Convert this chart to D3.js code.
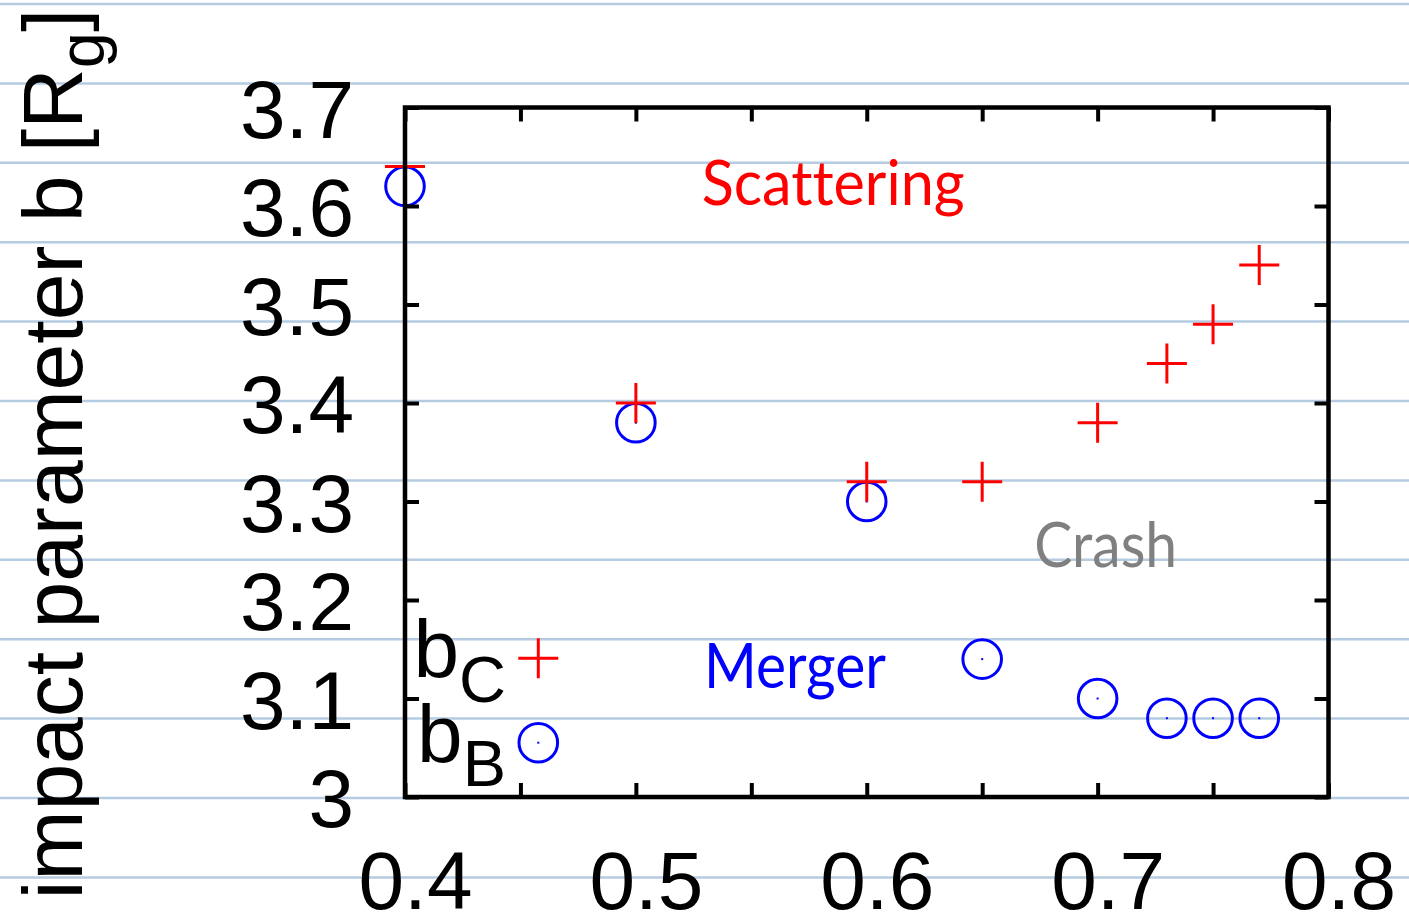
<!DOCTYPE html>
<html>
<head>
<meta charset="utf-8">
<script src="https://cdn.jsdelivr.net/npm/d3@7/dist/d3.min.js"></script>
<style>
  html, body { margin: 0; padding: 0; background: #ffffff; }
  svg { display: block; }
  text { font-variant-ligatures: none; font-feature-settings: "liga" 0; }
</style>
</head>
<body>
<svg id="chart" width="1409" height="915"></svg>
<script>
// Mass ratio q on the x axis, impact parameter b on the y axis
const xTickValues = [0.4, 0.45, 0.5, 0.55, 0.6, 0.65, 0.7, 0.75, 0.8];
const xTickLabels = ["0.4", "0.5", "0.6", "0.7", "0.8"];
const yTickValues = [3.0, 3.1, 3.2, 3.3, 3.4, 3.5, 3.6, 3.7];
const yTickLabels = ["3", "3.1", "3.2", "3.3", "3.4", "3.5", "3.6", "3.7"];

// b_C : scattering threshold (red crosses)
const scatterQ = [0.4, 0.5, 0.6, 0.65, 0.7, 0.73, 0.75, 0.77];
const scatterB = [3.64, 3.40, 3.32, 3.32, 3.38, 3.44, 3.48, 3.54];

// b_B : merger threshold (blue circles)
const mergerQ = [0.4, 0.5, 0.6, 0.65, 0.7, 0.73, 0.75, 0.77];
const mergerB = [3.62, 3.38, 3.30, 3.14, 3.10, 3.08, 3.08, 3.08];

// region names placed in data coordinates
const regionNames = ["Scattering", "Crash", "Merger"];
const regionQ = [0.5285, 0.6725, 0.5295];
const regionB = [3.601, 3.2335, 3.111];
const regionColors = ["#ff0000", "#808080", "#0000ff"];
const regionWidths = [263, 143, 182];

const svg = d3.select("#chart");
const W = 1409, H = 915;
const plot = { left: 405, right: 1328.5, top: 107.5, bottom: 797 };

const x = d3.scaleLinear().domain([0.4, 0.8]).range([plot.left, plot.right]);
const y = d3.scaleLinear().domain([3.0, 3.7]).range([plot.bottom, plot.top]);

const tickFont = "'Liberation Sans', Arial, Helvetica, sans-serif";
const noteFont = "Lato, 'Noto Sans', sans-serif";

// ruled-paper background
const ruleGap = 79.4;
svg.append("g")
  .selectAll("line")
  .data(d3.range(0, 12))
  .join("line")
  .attr("x1", 0).attr("x2", W)
  .attr("y1", k => 4 + k * ruleGap)
  .attr("y2", k => 4 + k * ruleGap)
  .attr("stroke", "#b5cbe2")
  .attr("stroke-width", 2.5);

// markers
const plusHalf = 20, circleR = 19.3;
const gData = svg.append("g");

const mergerPts = mergerQ.map((q, i) => ({ q, b: mergerB[i] }));
const scatterPts = scatterQ.map((q, i) => ({ q, b: scatterB[i] }));

function drawCircle(sel) {
  sel.append("circle")
    .attr("r", circleR)
    .attr("fill", "none")
    .attr("stroke", "#0000ff")
    .attr("stroke-width", 3);
  sel.append("rect")
    .attr("x", -1).attr("y", -1)
    .attr("width", 2).attr("height", 2)
    .attr("fill", "#0000ff");
}
function drawPlus(sel) {
  sel.append("path")
    .attr("d", `M${-plusHalf},0H${plusHalf}M0,${-plusHalf}V${plusHalf}`)
    .attr("stroke", "#ff0000")
    .attr("stroke-width", 3)
    .attr("fill", "none");
}

gData.selectAll("g.merger")
  .data(mergerPts)
  .join("g")
  .attr("class", "merger")
  .attr("transform", d => `translate(${x(d.q)},${y(d.b)})`)
  .call(drawCircle);

gData.selectAll("g.scatter")
  .data(scatterPts)
  .join("g")
  .attr("class", "scatter")
  .attr("transform", d => `translate(${x(d.q)},${y(d.b)})`)
  .call(drawPlus);

// region names
svg.append("g")
  .selectAll("text")
  .data(regionNames)
  .join("text")
  .attr("x", (d, i) => x(regionQ[i]))
  .attr("y", (d, i) => y(regionB[i]))
  .attr("fill", (d, i) => regionColors[i])
  .attr("font-family", noteFont)
  .attr("font-size", 61)
  .attr("textLength", (d, i) => regionWidths[i])
  .attr("lengthAdjust", "spacingAndGlyphs")
  .text(d => d);

// axes with inward ticks on all four sides
const tickLen = 14;
const axStyle = g => {
  g.select(".domain").remove();
  g.selectAll(".tick line").attr("stroke", "#000").attr("stroke-width", 4);
};

const bottomAxis = d3.axisBottom(x)
  .tickValues(xTickValues)
  .tickSize(-tickLen)
  .tickSizeOuter(0)
  .tickFormat(d => {
    const lbl = d3.format(".1f")(d);
    return xTickLabels.includes(lbl) && Math.abs(d * 10 - Math.round(d * 10)) < 1e-9 ? lbl : "";
  });

svg.append("g")
  .attr("transform", `translate(0,${plot.bottom})`)
  .call(bottomAxis)
  .call(axStyle)
  .call(g => g.selectAll(".tick text")
    .attr("y", 112)
    .attr("dy", 0)
    .attr("dx", 10)
    .attr("fill", "#000")
    .attr("font-family", tickFont)
    .attr("font-size", 82));

svg.append("g")
  .attr("transform", `translate(0,${plot.top})`)
  .call(d3.axisTop(x).tickValues(xTickValues).tickSize(-tickLen).tickSizeOuter(0).tickFormat(""))
  .call(axStyle);

const leftAxis = d3.axisLeft(y)
  .tickValues(yTickValues)
  .tickSize(-tickLen)
  .tickSizeOuter(0)
  .tickFormat((d, i) => yTickLabels[i]);

svg.append("g")
  .attr("transform", `translate(${plot.left},0)`)
  .call(leftAxis)
  .call(axStyle)
  .call(g => g.selectAll(".tick text")
    .attr("x", -51)
    .attr("dy", 29.5)
    .attr("text-anchor", "end")
    .attr("fill", "#000")
    .attr("font-family", tickFont)
    .attr("font-size", 82));

svg.append("g")
  .attr("transform", `translate(${plot.right},0)`)
  .call(d3.axisRight(y).tickValues(yTickValues).tickSize(-tickLen).tickSizeOuter(0).tickFormat(""))
  .call(axStyle);

// key
const key = svg.append("g");
const keyRows = [
  { sub: "C", dy: plot.bottom - 138.7, draw: drawPlus },
  { sub: "B", dy: plot.bottom - 54.3, draw: drawCircle }
];
keyRows.forEach(r => {
  const t = key.append("text")
    .attr("x", plot.left + 101)
    .attr("y", r.dy + 18.8)
    .attr("text-anchor", "end")
    .attr("font-family", tickFont)
    .attr("fill", "#000");
  t.append("tspan").attr("font-size", 82).text("b");
  t.append("tspan").attr("font-size", 65).attr("dy", 24.8).text(r.sub);
  key.append("g")
    .attr("transform", `translate(${plot.left + 133.3},${r.dy})`)
    .call(r.draw);
});

// frame on top
svg.append("rect")
  .attr("x", plot.left).attr("y", plot.top)
  .attr("width", plot.right - plot.left)
  .attr("height", plot.bottom - plot.top)
  .attr("fill", "none")
  .attr("stroke", "#000")
  .attr("stroke-width", 4.5);

// y-axis title
const yt = svg.append("text")
  .attr("transform", "translate(82,454) rotate(-90)")
  .attr("text-anchor", "middle")
  .attr("font-family", tickFont)
  .attr("fill", "#000");
yt.append("tspan").attr("font-size", 84).text("impact parameter b [R");
yt.append("tspan").attr("font-size", 65).attr("dy", 22).text("g");
yt.append("tspan").attr("font-size", 84).attr("dy", -22).text("]");
</script>
</body>
</html>
